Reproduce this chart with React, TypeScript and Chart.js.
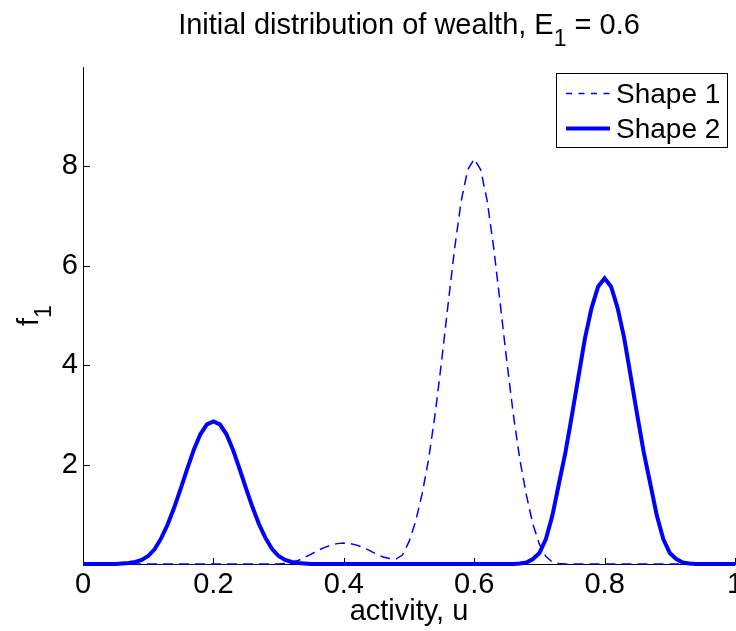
import React, { useEffect, useRef } from "react";
import { Chart, registerables } from "chart.js";

Chart.register(...registerables);

// ---------- data ----------
const activityU = [
  0, 0.01, 0.02, 0.03, 0.04, 0.05, 0.06, 0.07, 0.08, 0.09,
  0.1, 0.11, 0.12, 0.13, 0.14, 0.15, 0.16, 0.17, 0.18, 0.19,
  0.2, 0.21, 0.22, 0.23, 0.24, 0.25, 0.26, 0.27, 0.28, 0.29,
  0.3, 0.31, 0.32, 0.33, 0.34, 0.35, 0.36, 0.37, 0.38, 0.39,
  0.4, 0.41, 0.42, 0.43, 0.44, 0.45, 0.46, 0.47, 0.48, 0.49,
  0.5, 0.51, 0.52, 0.53, 0.54, 0.55, 0.56, 0.57, 0.58, 0.59,
  0.6, 0.61, 0.62, 0.63, 0.64, 0.65, 0.66, 0.67, 0.68, 0.69,
  0.7, 0.71, 0.72, 0.73, 0.74, 0.75, 0.76, 0.77, 0.78, 0.79,
  0.8, 0.81, 0.82, 0.83, 0.84, 0.85, 0.86, 0.87, 0.88, 0.89,
  0.9, 0.91, 0.92, 0.93, 0.94, 0.95, 0.96, 0.97, 0.98, 0.99,
  1,
];

const shape1 = [
  0, 0, 0, 0, 0, 0, 0, 0, 0, 0,
  0, 0, 0, 0, 0, 0, 0, 0, 0, 0,
  0, 0, 0, 0, 0, 0, 0, 0, 0, 0,
  0, 0.01, 0.03, 0.07, 0.13, 0.2, 0.27, 0.33, 0.38, 0.41,
  0.42, 0.41, 0.38, 0.33, 0.27, 0.2, 0.14, 0.11, 0.1, 0.18,
  0.45, 0.85, 1.4, 2.1, 3.01, 4.08, 5.23, 6.35, 7.3, 7.93,
  8.15, 7.93, 7.3, 6.35, 5.23, 4.08, 3.01, 2.1, 1.39, 0.8,
  0.4, 0.15, 0.04, 0.01, 0, 0, 0, 0, 0, 0,
  0, 0, 0, 0, 0, 0, 0, 0, 0, 0,
  0, 0, 0, 0, 0, 0, 0, 0, 0, 0,
  0,
];

const shape2 = [
  0, 0, 0, 0, 0, 0, 0.01, 0.02, 0.04, 0.08,
  0.16, 0.3, 0.52, 0.8, 1.14, 1.52, 1.92, 2.3, 2.61, 2.81,
  2.87, 2.81, 2.61, 2.3, 1.92, 1.52, 1.14, 0.8, 0.52, 0.3,
  0.16, 0.08, 0.04, 0.02, 0.01, 0, 0, 0, 0, 0,
  0, 0, 0, 0, 0, 0, 0, 0, 0, 0,
  0, 0, 0, 0, 0, 0, 0, 0, 0, 0,
  0, 0, 0, 0, 0, 0, 0, 0.01, 0.03, 0.1,
  0.22, 0.5, 0.98, 1.62, 2.25, 3.0, 3.78, 4.55, 5.15, 5.58,
  5.75, 5.58, 5.15, 4.55, 3.78, 3.0, 2.25, 1.62, 0.98, 0.5,
  0.22, 0.1, 0.03, 0.01, 0, 0, 0, 0, 0, 0,
  0,
];

const seriesLabels = ["Shape 1", "Shape 2"];
const xTickValues = [0, 0.2, 0.4, 0.6, 0.8, 1];
const xTickLabels = ["0", "0.2", "0.4", "0.6", "0.8", "1"];
const yTickValues = [2, 4, 6, 8];
const yTickLabels = ["2", "4", "6", "8"];
const titleMain = "Initial distribution of wealth, E";
const titleSub = "1";
const titleTail = " = 0.6";
const xAxisLabel = "activity, u";
const yAxisLabel = "f";
const yAxisSub = "1";

// ---------- styles ----------
const FONT = '"Liberation Sans", Arial, Helvetica, sans-serif';
const BLUE = "#0000ff";

const decorPlugin = {
  id: "matlabDecor",
  beforeDatasetsDraw(chart: any) {
    const { ctx, chartArea, scales } = chart;
    ctx.save();
    ctx.strokeStyle = "#000";
    ctx.lineWidth = 1;
    ctx.beginPath();
    for (const v of xTickValues) {
      const px = Math.round(scales.x.getPixelForValue(v)) + 0.5;
      ctx.moveTo(px, chartArea.bottom);
      ctx.lineTo(px, chartArea.bottom - 6);
    }
    for (const v of yTickValues) {
      const py = Math.round(scales.y.getPixelForValue(v)) + 0.5;
      ctx.moveTo(chartArea.left, py);
      ctx.lineTo(chartArea.left + 7, py);
    }
    ctx.stroke();
    ctx.restore();
  },
  afterDraw(chart: any) {
    const { ctx, chartArea } = chart;
    ctx.save();
    ctx.fillStyle = "#000";
    ctx.textBaseline = "alphabetic";
    ctx.textAlign = "left";

    // title with subscript
    const big = `29px ${FONT}`;
    const small = `23px ${FONT}`;
    ctx.font = big;
    const w1 = ctx.measureText(titleMain).width;
    const w3 = ctx.measureText(titleTail).width;
    ctx.font = small;
    const w2 = ctx.measureText(titleSub).width;
    const cx = (chartArea.left + chartArea.right) / 2;
    const start = cx - (w1 + w2 + w3) / 2;
    const base = 34;
    ctx.font = big;
    ctx.fillText(titleMain, start, base);
    ctx.font = small;
    ctx.fillText(titleSub, start + w1, base + 12);
    ctx.font = big;
    ctx.fillText(titleTail, start + w1 + w2, base);

    // y axis label with subscript (rotated)
    ctx.save();
    ctx.translate(38, 326);
    ctx.rotate(-Math.PI / 2);
    ctx.font = big;
    const wf = ctx.measureText(yAxisLabel).width;
    ctx.fillText(yAxisLabel, 0, 0);
    ctx.font = small;
    ctx.fillText(yAxisSub, wf, 13);
    ctx.restore();

    // legend box
    const legendFont = `28px ${FONT}`;
    const bw = 171;
    const bh = 74;
    const lx = Math.round(chartArea.right - 8 - bw);
    const ly = Math.round(chartArea.top + 6);
    ctx.fillStyle = "#fff";
    ctx.fillRect(lx, ly, bw, bh);
    ctx.strokeStyle = "#000";
    ctx.lineWidth = 1;
    ctx.strokeRect(lx + 0.5, ly + 0.5, bw, bh);
    chart.data.datasets.forEach((ds: any, i: number) => {
      const y = ly + 20.5 + i * 35;
      ctx.strokeStyle = ds.borderColor;
      ctx.lineWidth = ds.borderWidth;
      ctx.setLineDash(ds.legendDash || []);
      ctx.beginPath();
      ctx.moveTo(lx + 10, y);
      ctx.lineTo(lx + 54, y);
      ctx.stroke();
      ctx.setLineDash([]);
      ctx.fillStyle = "#000";
      ctx.font = legendFont;
      ctx.textBaseline = "middle";
      ctx.fillText(ds.label, lx + 60, y + 1.5);
    });
    ctx.restore();
  },
};

export default function App() {
  const canvasRef = useRef<HTMLCanvasElement | null>(null);

  useEffect(() => {
    if (!canvasRef.current) return;
    const tickFont = { family: FONT, size: 29 };
    const chart = new Chart(canvasRef.current, {
      type: "line",
      data: {
        datasets: [
          {
            label: seriesLabels[0],
            data: activityU.map((u, k) => ({ x: u, y: shape1[k] })),
            borderColor: BLUE,
            borderWidth: 1.5,
            borderDash: [10, 6],
            legendDash: [6, 6.5],
            pointRadius: 0,
            fill: false,
            tension: 0,
            order: 1,
            clip: 3,
          } as any,
          {
            label: seriesLabels[1],
            data: activityU.map((u, k) => ({ x: u, y: shape2[k] })),
            borderColor: BLUE,
            borderWidth: 4,
            pointRadius: 0,
            fill: false,
            tension: 0,
            order: 0,
            clip: 3,
          } as any,
        ],
      },
      options: {
        animation: false,
        responsive: false,
        devicePixelRatio: 1,
        layout: { padding: { top: 67, right: 1, bottom: 0, left: 0 } },
        plugins: {
          legend: { display: false },
          tooltip: { enabled: false },
          title: { display: false },
        },
        scales: {
          x: {
            type: "linear",
            min: 0,
            max: 1,
            afterBuildTicks: (s: any) => {
              s.ticks = xTickValues.map((value) => ({ value }));
            },
            afterFit: (s: any) => {
              s.height = 67;
              s.paddingLeft = 0;
              s.paddingRight = 0;
            },
            grid: { display: false, drawTicks: false, tickLength: 0 },
            border: { display: true, color: "#000", width: 1 },
            ticks: {
              font: tickFont,
              color: "#000",
              padding: 4,
              maxRotation: 0,
              autoSkip: false,
              callback: (_v: any, i: number) => xTickLabels[i],
            },
            title: {
              display: true,
              text: xAxisLabel,
              color: "#000",
              font: { family: FONT, size: 29 },
              padding: { top: 0, bottom: 2 },
            },
          },
          y: {
            type: "linear",
            min: 0,
            max: 10,
            afterBuildTicks: (s: any) => {
              s.ticks = yTickValues.map((value) => ({ value }));
            },
            afterFit: (s: any) => {
              s.width = 83;
              s.paddingTop = 0;
              s.paddingBottom = 0;
            },
            grid: { display: false, drawTicks: false, tickLength: 0 },
            border: { display: true, color: "#000", width: 1 },
            ticks: {
              font: tickFont,
              color: "#000",
              padding: 5,
              autoSkip: false,
              callback: (_v: any, i: number) => yTickLabels[i],
            },
          },
        },
      },
      plugins: [decorPlugin],
    } as any);
    return () => chart.destroy();
  }, []);

  return (
    <div
      style={{
        position: "absolute",
        left: 0,
        top: 0,
        width: 736,
        height: 631,
        background: "#fff",
      }}
    >
      <canvas
        ref={canvasRef}
        width={736}
        height={631}
        style={{ width: 736, height: 631, display: "block" }}
      />
    </div>
  );
}
